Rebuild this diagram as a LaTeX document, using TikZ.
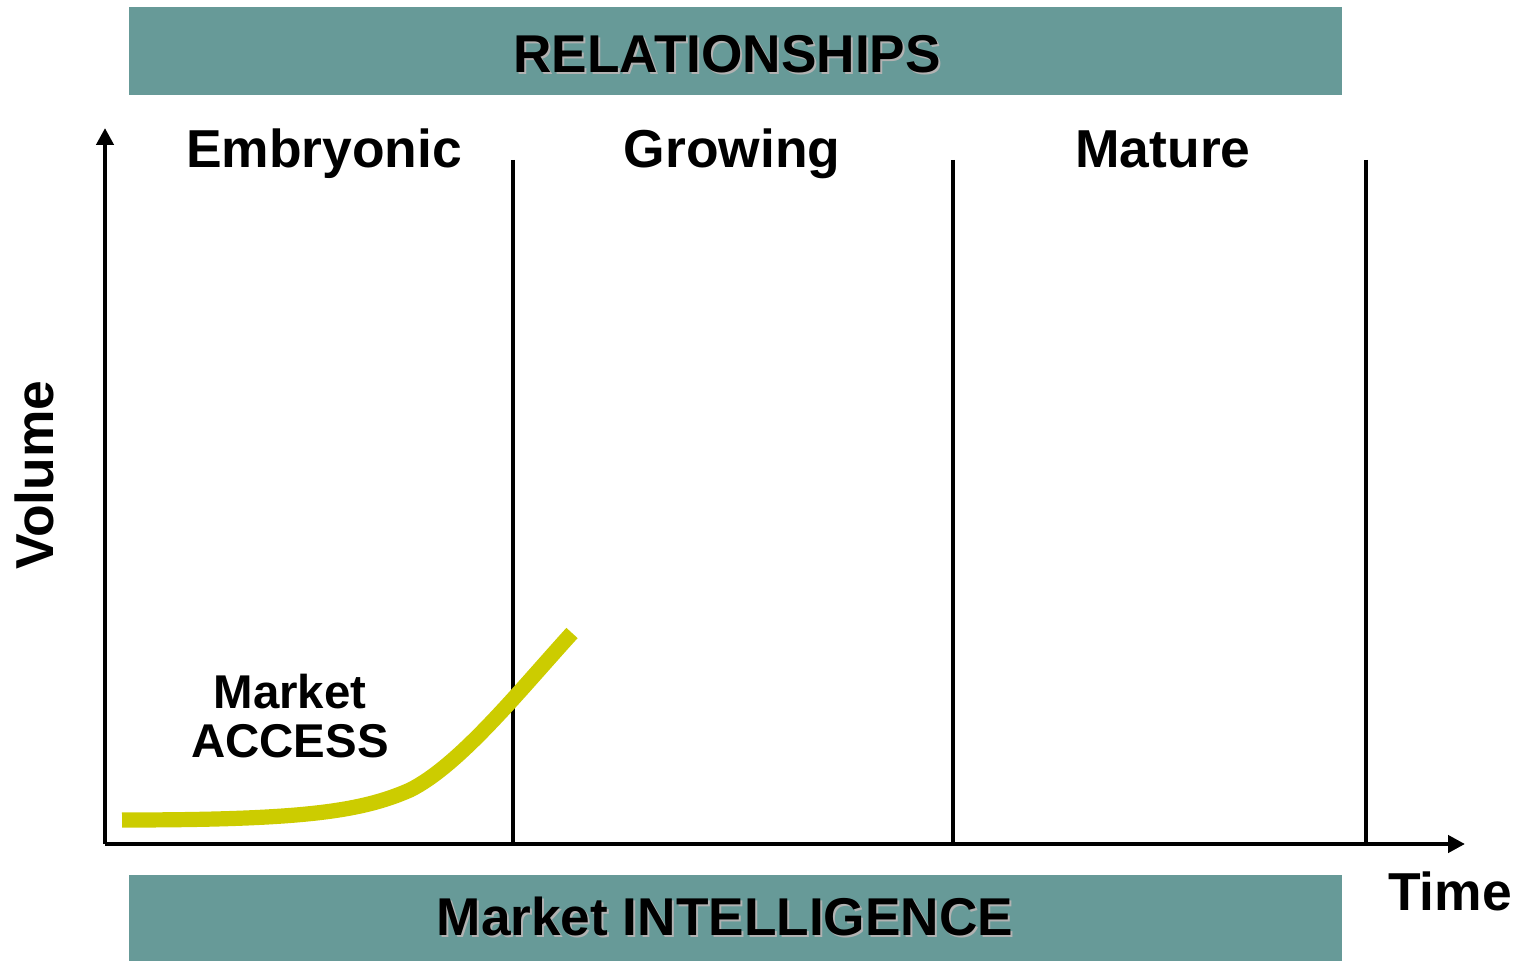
\documentclass[tikz,border=0pt]{standalone}
\usepackage{fontspec}
\setmainfont{Liberation Sans}
\usetikzlibrary{arrows.meta}

\definecolor{bannerteal}{RGB}{103,154,152}
\definecolor{curveyellow}{RGB}{204,204,0}

\begin{document}
\begin{tikzpicture}[
  x=0.5pt, y=-0.5pt,
  banner/.style={fill=bannerteal, draw=none},
  bannertext/.style={font=\fontsize{26.6}{30}\selectfont\bfseries, anchor=base},
  shadowtext/.style={bannertext, text=black!30},
  stage/.style={font=\fontsize{26.7}{30}\selectfont\bfseries, anchor=base},
  axis/.style={line width=2.3pt, -{Triangle[length=8.5pt, width=8.5pt]}},
  divider/.style={line width=2.3pt}
]
\useasboundingbox (0,0) rectangle (1524,962);

% Banners
\fill[banner] (129,7) rectangle (1342,95);
\fill[banner] (129,875) rectangle (1342,961);
\node[shadowtext] (relshadow) at (729,75) {RELATIONSHIPS};
\node[bannertext] (rel) at (727,73) {RELATIONSHIPS};
\node[shadowtext] (intelshadow) at (727,937) {Market INTELLIGENCE};
\node[bannertext] (intel) at (725,935) {Market INTELLIGENCE};

% Axes
\coordinate (origin) at (105,844);
\coordinate (ytip) at (105,128);
\coordinate (xtip) at (1465,844);
\draw[axis] (origin) -- (ytip);
\draw[axis] (origin) -- (xtip);
\node[stage, rotate=90] (volume) at (54,475) {Volume};
\node[stage] (time) at (1450,910) {Time};

% Stage dividers
\foreach \name/\xpos in {one/513, two/953, three/1366} {
  \coordinate (\name top) at (\xpos,160);
  \coordinate (\name bot) at (\xpos,844);
  \draw[divider] (\name top) -- (\name bot);
}

% Stage labels
\node[stage] (embryonic) at (324,168) {Embryonic};
\node[stage] (growing) at (732,168) {Growing};
\node[stage] (mature) at (1163,168) {Mature};

% Market access curve
\node[font=\fontsize{23.7}{24.5}\selectfont\bfseries, align=center, anchor=base] (access) at (290,757) {Market\\ACCESS};
\draw[curveyellow, line width=7.6pt]
  (122,820) .. controls (300,820) and (360,812) .. (410,790)
  .. controls (460,765) and (520,690) .. (572,633);

\end{tikzpicture}
\end{document}
